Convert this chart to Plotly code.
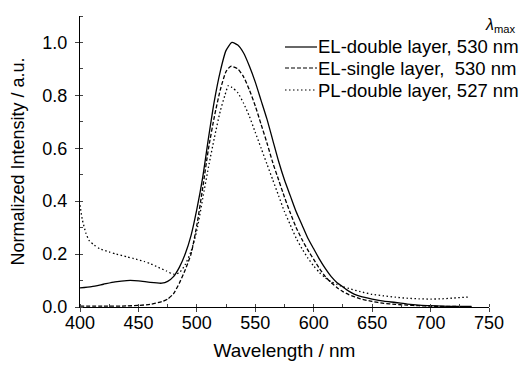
import plotly.graph_objects as go

# Wavelength (nm) and normalized intensity for each spectrum
wl_el_double = [400, 410, 420, 430, 440, 450, 460, 470, 475, 480, 485, 490, 495, 500, 505, 510, 515, 520, 525, 530,
                535, 540, 545, 550, 555, 560, 565, 570, 575, 580, 585, 590, 595, 600, 605, 610, 615, 620, 625, 630,
                635, 640, 650, 660, 670, 680, 690, 700, 710, 720, 735]
int_el_double = [0.072, 0.077, 0.086, 0.095, 0.100, 0.099, 0.093, 0.090, 0.097, 0.115, 0.15, 0.20, 0.27, 0.37, 0.49,
                 0.64, 0.78, 0.89, 0.97, 1.0, 0.99, 0.96, 0.91, 0.85, 0.78, 0.71, 0.63, 0.55, 0.48, 0.42, 0.36, 0.31,
                 0.26, 0.22, 0.18, 0.145, 0.115, 0.092, 0.076, 0.06, 0.048, 0.04, 0.03, 0.022, 0.017, 0.011, 0.007,
                 0.005, 0.003, 0.002, 0.002]

wl_el_single = [400, 420, 440, 450, 460, 470, 475, 480, 485, 490, 495, 500, 505, 510, 515, 520, 525, 529,
                535, 540, 545, 550, 555, 560, 565, 570, 575, 580, 585, 590, 595, 600, 605, 610, 615, 620, 625, 630,
                640, 650, 660, 670, 680, 690, 700, 720, 735]
int_el_single = [0.003, 0.003, 0.004, 0.006, 0.01, 0.02, 0.03, 0.05, 0.09, 0.14, 0.2, 0.31, 0.45, 0.6, 0.72, 0.82,
                 0.89, 0.91, 0.90, 0.87, 0.82, 0.76, 0.69, 0.62, 0.545, 0.48, 0.415, 0.355, 0.30, 0.255, 0.215, 0.18,
                 0.145, 0.115, 0.092, 0.073, 0.058, 0.047, 0.031, 0.021, 0.014, 0.01, 0.007, 0.005, 0.003, 0.002,
                 0.001]

wl_pl_double = [400, 402, 405, 408, 412, 417, 425, 431, 440, 446, 455, 460, 467, 474, 480, 485, 490, 495, 500, 505,
                510, 515, 520, 524, 527, 530, 535, 540, 545, 550, 555, 560, 565, 570, 575, 580, 585, 590, 595, 600,
                605, 610, 615, 620, 625, 630, 640, 650, 660, 670, 680, 690, 700, 710, 720, 733]
int_pl_double = [0.385, 0.33, 0.28, 0.25, 0.235, 0.22, 0.208, 0.2, 0.19, 0.183, 0.172, 0.164, 0.15, 0.136, 0.124, 0.13,
                 0.16, 0.21, 0.29, 0.41, 0.53, 0.64, 0.74, 0.80, 0.837, 0.83, 0.81, 0.77, 0.72, 0.66, 0.60, 0.54,
                 0.48, 0.42, 0.36, 0.31, 0.26, 0.22, 0.185, 0.155, 0.13, 0.11, 0.095, 0.085, 0.077, 0.07, 0.058,
                 0.048, 0.042, 0.037, 0.033, 0.031, 0.03, 0.031, 0.034, 0.038]

series_names = ["EL-double layer, 530 nm", "EL-single layer,  530 nm", "PL-double layer, 527 nm"]
series_dash = ["solid", "4px,2px", "1.5px,2.5px"]
x_ticks = [400, 450, 500, 550, 600, 650, 700, 750]
y_ticks = [0.0, 0.2, 0.4, 0.6, 0.8, 1.0]

FONT = "Arial, Liberation Sans, sans-serif"
# the page body has an 8 px margin, so the figure is drawn 8 px in from the window corner
OFF = 8
W, H = 531 - OFF, 365 - OFF
ML, MT = 80 - OFF, 16 - OFF
MR = W - (489 - OFF)
MB = H - (307 - OFF)
PW, PH = W - ML - MR, H - MT - MB


def px_to_paper(px, py):
    """window pixel -> paper coordinates"""
    return (px - OFF - ML) / PW, (H - MB - (py - OFF)) / PH


fig = go.Figure()
series = [(wl_el_double, int_el_double), (wl_el_single, int_el_single), (wl_pl_double, int_pl_double)]
for (xs, ys), name, dash in zip(series, series_names, series_dash):
    fig.add_trace(go.Scatter(x=xs, y=ys, mode="lines", name=name, showlegend=False,
                             line=dict(color="black", width=1.3, dash=dash, shape="spline", smoothing=0.6)))

# manual legend (compact spacing like the reference)
shapes, annotations = [], []
legend_rows_py = [47, 68, 90]
for name, dash, py in zip(series_names, series_dash, legend_rows_py):
    x0, y0 = px_to_paper(285, py)
    x1, _ = px_to_paper(317, py)
    shapes.append(dict(type="line", xref="paper", yref="paper", x0=x0, x1=x1, y0=y0, y1=y0,
                       line=dict(color="black", width=1.2, dash=dash)))
    tx, _ = px_to_paper(316, py)
    annotations.append(dict(text=name, xref="paper", yref="paper", x=tx, y=y0, xanchor="left",
                            yanchor="middle", showarrow=False, font=dict(size=18.5)))
lx, ly = px_to_paper(500, 26)
annotations.append(dict(text="<i>λ</i><sub>max</sub>", xref="paper", yref="paper", x=lx, y=ly,
                        xanchor="center", yanchor="middle", showarrow=False, font=dict(size=16)))

fig.update_layout(
    width=W, height=H,
    margin=dict(l=ML, r=MR, t=MT, b=MB),
    paper_bgcolor="white", plot_bgcolor="white",
    font=dict(family=FONT, size=18, color="black"),
    showlegend=False,
    shapes=shapes, annotations=annotations,
)

fig.update_xaxes(range=[400, 750], tickvals=x_ticks, ticks="outside", ticklen=4, tickwidth=1,
                 showline=True, linecolor="black", linewidth=1, showgrid=False, zeroline=False,
                 minor=dict(ticks="inside", ticklen=3, dtick=25, tick0=400, showgrid=False),
                 automargin=False, ticklabelstandoff=-5,
                 title=dict(text="Wavelength / nm", standoff=12, font=dict(size=19)), tickfont=dict(size=18))
fig.update_yaxes(range=[0, 1.1], tickvals=y_ticks, ticktext=[f"{v:.1f}" for v in y_ticks],
                 ticks="outside", ticklen=4, tickwidth=1,
                 showline=True, linecolor="black", linewidth=1, showgrid=False, zeroline=False,
                 minor=dict(ticks="inside", ticklen=3, dtick=0.1, tick0=0, showgrid=False),
                 automargin=False, ticklabelstandoff=4,
                 title=dict(text="Normalized Intensity / a.u.", standoff=18, font=dict(size=18)),
                 tickfont=dict(size=18))

fig.write_html("out.html")
